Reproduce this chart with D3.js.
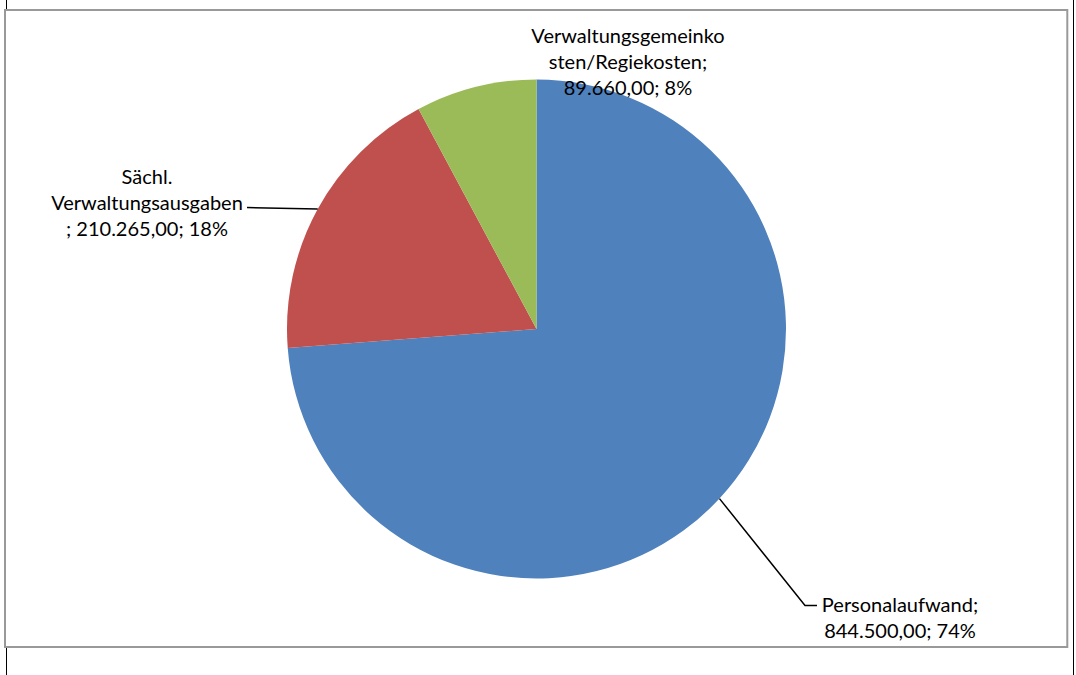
<!DOCTYPE html>
<html>
<head>
<meta charset="utf-8">
<script src="https://cdn.jsdelivr.net/npm/d3@7"></script>
<style>
  body { margin: 0; background: #fff; }
  svg { display: block; }
  text { font-family: Lato, "Open Sans", sans-serif; fill: #000; }
</style>
</head>
<body>
<script>
// data
const categories = ['Personalaufwand', 'Sächl. Verwaltungsausgaben', 'Verwaltungsgemeinkosten/Regiekosten']
const values = [844500, 210265, 89660]
const colors = ['#4F81BD', '#C0504D', '#9BBB59']
// label lines as wrapped in the chart
const labelLines = [
  ['Personalaufwand;', '{v}; {p}'],
  ['Sächl.', 'Verwaltungsausgaben', '; {v}; {p}'],
  ['Verwaltungsgemeinko', 'sten/Regiekosten;', '{v}; {p}']
]

const W = 1076, H = 675
const cx = 536.5, cy = 329, r = 249.5
const fontSize = 20, lineH = 26

const de = d3.formatLocale({ decimal: ',', thousands: '.', grouping: [3], currency: ['', ' €'] })
const fmt = de.format(',.2f')
const total = d3.sum(values)

const svg = d3.select('body').append('svg').attr('width', W).attr('height', H)

// outer lines + frame
svg.append('line').attr('x1', 6.5).attr('x2', 6.5).attr('y1', 0).attr('y2', H).attr('stroke', '#000')
svg.append('line').attr('x1', 1073.5).attr('x2', 1073.5).attr('y1', 0).attr('y2', H).attr('stroke', '#000')
svg.append('rect')
  .attr('x', 5).attr('y', 10).attr('width', 1062.3).attr('height', 637)
  .attr('fill', '#fff').attr('stroke', '#999').attr('stroke-width', 2)

const pie = d3.pie().sort(null).value(d => d)
const arcs = pie(values)
const arc = d3.arc().innerRadius(0).outerRadius(r)
const edge = d3.arc().innerRadius(r).outerRadius(r)

const g = svg.append('g').attr('transform', `translate(${cx},${cy})`)
g.selectAll('path').data(arcs).join('path')
  .attr('d', arc)
  .attr('fill', (d, i) => colors[i])

// label placement (label center x, first line y, leader bend)
const labelPos = [
  { x: 900, y: 605, leader: [[805, 605.5], [817, 605.5]] },
  { x: 147, y: 177, leader: [[247, 207.5]] },
  { x: 628, y: 36, leader: null }
]

arcs.forEach((d, i) => {
  const pos = labelPos[i]
  const v = fmt(values[i])
  const p = Math.round(values[i] / total * 100) + '%'
  const lines = labelLines[i].map(s => s.replace('{v}', v).replace('{p}', p))
  const t = svg.append('text')
    .attr('text-anchor', 'middle')
    .attr('font-size', fontSize)
  lines.forEach((s, k) => {
    t.append('tspan').attr('x', pos.x).attr('y', pos.y + k * lineH).attr('dy', '0.35em').text(s)
  })
  if (pos.leader) {
    const [ex, ey] = edge.centroid(d)
    const pts = [[cx + ex, cy + ey], ...pos.leader]
    svg.append('path')
      .attr('d', d3.line()(pts))
      .attr('fill', 'none').attr('stroke', '#000').attr('stroke-width', 1.5)
  }
})
</script>
</body>
</html>
